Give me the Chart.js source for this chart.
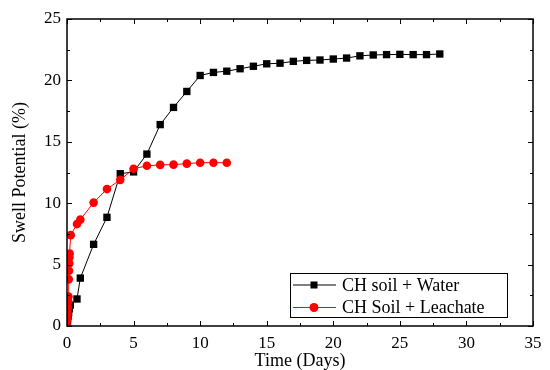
<!DOCTYPE html>
<html>
<head>
<meta charset="utf-8">
<script src="https://cdn.jsdelivr.net/npm/chart.js@4.4.1/dist/chart.umd.min.js"></script>
<style>
  html, body { margin: 0; padding: 0; background: #fff; }
  #wrap { width: 550px; height: 370px; }
</style>
</head>
<body>
<div id="wrap"><canvas id="swellChart"></canvas></div>
<script>
// CH soil + Water
const waterDays = [0, 0.04, 0.08, 0.125, 0.17, 0.25, 0.75, 1, 2, 3, 4, 5, 6, 7, 8, 9, 10, 11, 12, 13, 14,
    15, 16, 17, 18, 19, 20, 21, 22, 23, 24, 25, 26, 27, 28];
const waterSwell = [0, 0.4, 0.8, 1.1, 1.4, 1.7, 2.2, 3.9, 6.65, 8.85, 12.4, 12.55, 14.0, 16.4, 17.8, 19.1, 20.4, 20.65, 20.75, 20.95, 21.15,
    21.35, 21.4, 21.55, 21.63, 21.66, 21.74, 21.82, 22.0, 22.07, 22.1, 22.12, 22.1, 22.1, 22.15];

// CH Soil + Leachate
const leachDays = [0, 0.03, 0.05, 0.07, 0.09, 0.11, 0.13, 0.15, 0.17, 0.18, 0.2, 0.28, 0.75, 1, 2, 3, 4, 5, 6, 7, 8, 9, 10, 11, 12];
const leachSwell = [0, 0.5, 1.0, 1.5, 2.0, 2.4, 3.8, 4.5, 5.1, 5.6, 5.9, 7.4, 8.3, 8.66, 10.05, 11.15, 11.9, 12.8, 13.05, 13.12, 13.14, 13.22, 13.3, 13.3, 13.3];

const seriesNames = ["CH soil + Water", "CH Soil + Leachate"];

const serif = "'Liberation Serif', 'Times New Roman', serif";

function toPoints(xs, ys) {
    return xs.map((x, i) => ({ x: x, y: ys[i] }));
}

// inward ticks on all four sides + the frame
const frameTicks = {
    id: 'frameTicks',
    afterDraw(chart) {
        const ctx = chart.ctx;
        const area = chart.chartArea;
        const xs = chart.scales.x;
        const ys = chart.scales.y;
        ctx.save();
        ctx.strokeStyle = '#000';
        ctx.lineWidth = 1;
        ctx.beginPath();
        xs.ticks.forEach(t => {
            const px = Math.round(xs.getPixelForValue(t.value)) + 0.5;
            const len = t.value % 5 === 0 ? 5 : 3;
            ctx.moveTo(px, area.bottom);
            ctx.lineTo(px, area.bottom - len);
            ctx.moveTo(px, area.top);
            ctx.lineTo(px, area.top + len);
        });
        ys.ticks.forEach(t => {
            const py = Math.round(ys.getPixelForValue(t.value)) + 0.5;
            const len = t.value % 5 === 0 ? 5 : 3;
            ctx.moveTo(area.left, py);
            ctx.lineTo(area.left + len, py);
            ctx.moveTo(area.right, py);
            ctx.lineTo(area.right - len, py);
        });
        ctx.stroke();
        ctx.lineWidth = 1.5;
        ctx.strokeRect(area.left, area.top, area.right - area.left, area.bottom - area.top);
        ctx.restore();
    }
};

// boxed legend in the lower right of the plot
const boxLegend = {
    id: 'boxLegend',
    afterDraw(chart) {
        const ctx = chart.ctx;
        const area = chart.chartArea;
        const boxW = 217, boxH = 44;
        const bx = area.right - 26 - boxW;
        const by = area.bottom - 9 - boxH;
        ctx.save();
        ctx.fillStyle = '#fff';
        ctx.fillRect(bx, by, boxW, boxH);
        ctx.strokeStyle = '#000';
        ctx.lineWidth = 1;
        ctx.strokeRect(bx + 0.5, by + 0.5, boxW, boxH);
        ctx.font = '18px ' + serif;
        ctx.textBaseline = 'middle';
        chart.data.datasets.forEach((ds, i) => {
            const cy = by + 12 + i * 22.5;
            ctx.strokeStyle = ds.borderColor;
            ctx.lineWidth = 1;
            ctx.beginPath();
            ctx.moveTo(bx + 3, cy);
            ctx.lineTo(bx + 46, cy);
            ctx.stroke();
            ctx.fillStyle = ds.pointBackgroundColor;
            const mx = bx + 24;
            if (ds.pointStyle === 'rect') {
                ctx.fillRect(mx - 3.5, cy - 3.5, 7, 7);
            } else {
                ctx.beginPath();
                ctx.arc(mx, cy, 4.5, 0, Math.PI * 2);
                ctx.fill();
            }
            ctx.fillStyle = '#000';
            ctx.fillText(ds.label, bx + 52, cy + 1);
        });
        ctx.restore();
    }
};

const swellChart = new Chart(document.getElementById("swellChart"), {
    type: "scatter",
    data: {
        datasets: [
            {
                label: seriesNames[0],
                data: toPoints(waterDays, waterSwell),
                showLine: true,
                borderColor: "#000000",
                borderWidth: 1,
                pointStyle: "rect",
                pointRadius: 5.2,
                pointBackgroundColor: "#000000",
                pointBorderWidth: 0,
                order: 2
            },
            {
                label: seriesNames[1],
                data: toPoints(leachDays, leachSwell),
                showLine: true,
                borderColor: "#ff0000",
                borderWidth: 1,
                pointStyle: "circle",
                pointRadius: 4.3,
                pointBackgroundColor: "#ff0000",
                pointBorderWidth: 0,
                order: 1
            }
        ]
    },
    options: {
        responsive: true,
        maintainAspectRatio: false,
        animation: false,
        layout: { padding: { top: 19, right: 17, left: 0, bottom: 0 } },
        plugins: {
            legend: { display: false },
            tooltip: { enabled: false }
        },
        scales: {
            x: {
                type: "linear",
                min: 0,
                max: 35,
                afterFit: s => { s.height = 44; },
                border: { display: false },
                grid: { display: false, drawTicks: false },
                ticks: {
                    stepSize: 2.5,
                    autoSkip: false,
                    maxRotation: 0,
                    padding: 7,
                    color: "#000",
                    font: { family: serif, size: 17 },
                    callback: v => (v % 5 === 0 ? v : "")
                },
                title: {
                    display: true,
                    text: "Time (Days)",
                    color: "#000",
                    padding: 0,
                    font: { family: serif, size: 18, lineHeight: 1 }
                }
            },
            y: {
                min: 0,
                max: 25,
                afterFit: s => { s.width = 67; },
                border: { display: false },
                grid: { display: false, drawTicks: false },
                ticks: {
                    stepSize: 2.5,
                    autoSkip: false,
                    padding: 6,
                    color: "#000",
                    font: { family: serif, size: 17 },
                    callback: v => (v % 5 === 0 ? v : "")
                },
                title: {
                    display: true,
                    text: "Swell Potential (%)",
                    color: "#000",
                    padding: { top: 11, bottom: 0 },
                    font: { family: serif, size: 18, lineHeight: 1 }
                }
            }
        }
    },
    plugins: [frameTicks, boxLegend]
});
</script>
</body>
</html>
